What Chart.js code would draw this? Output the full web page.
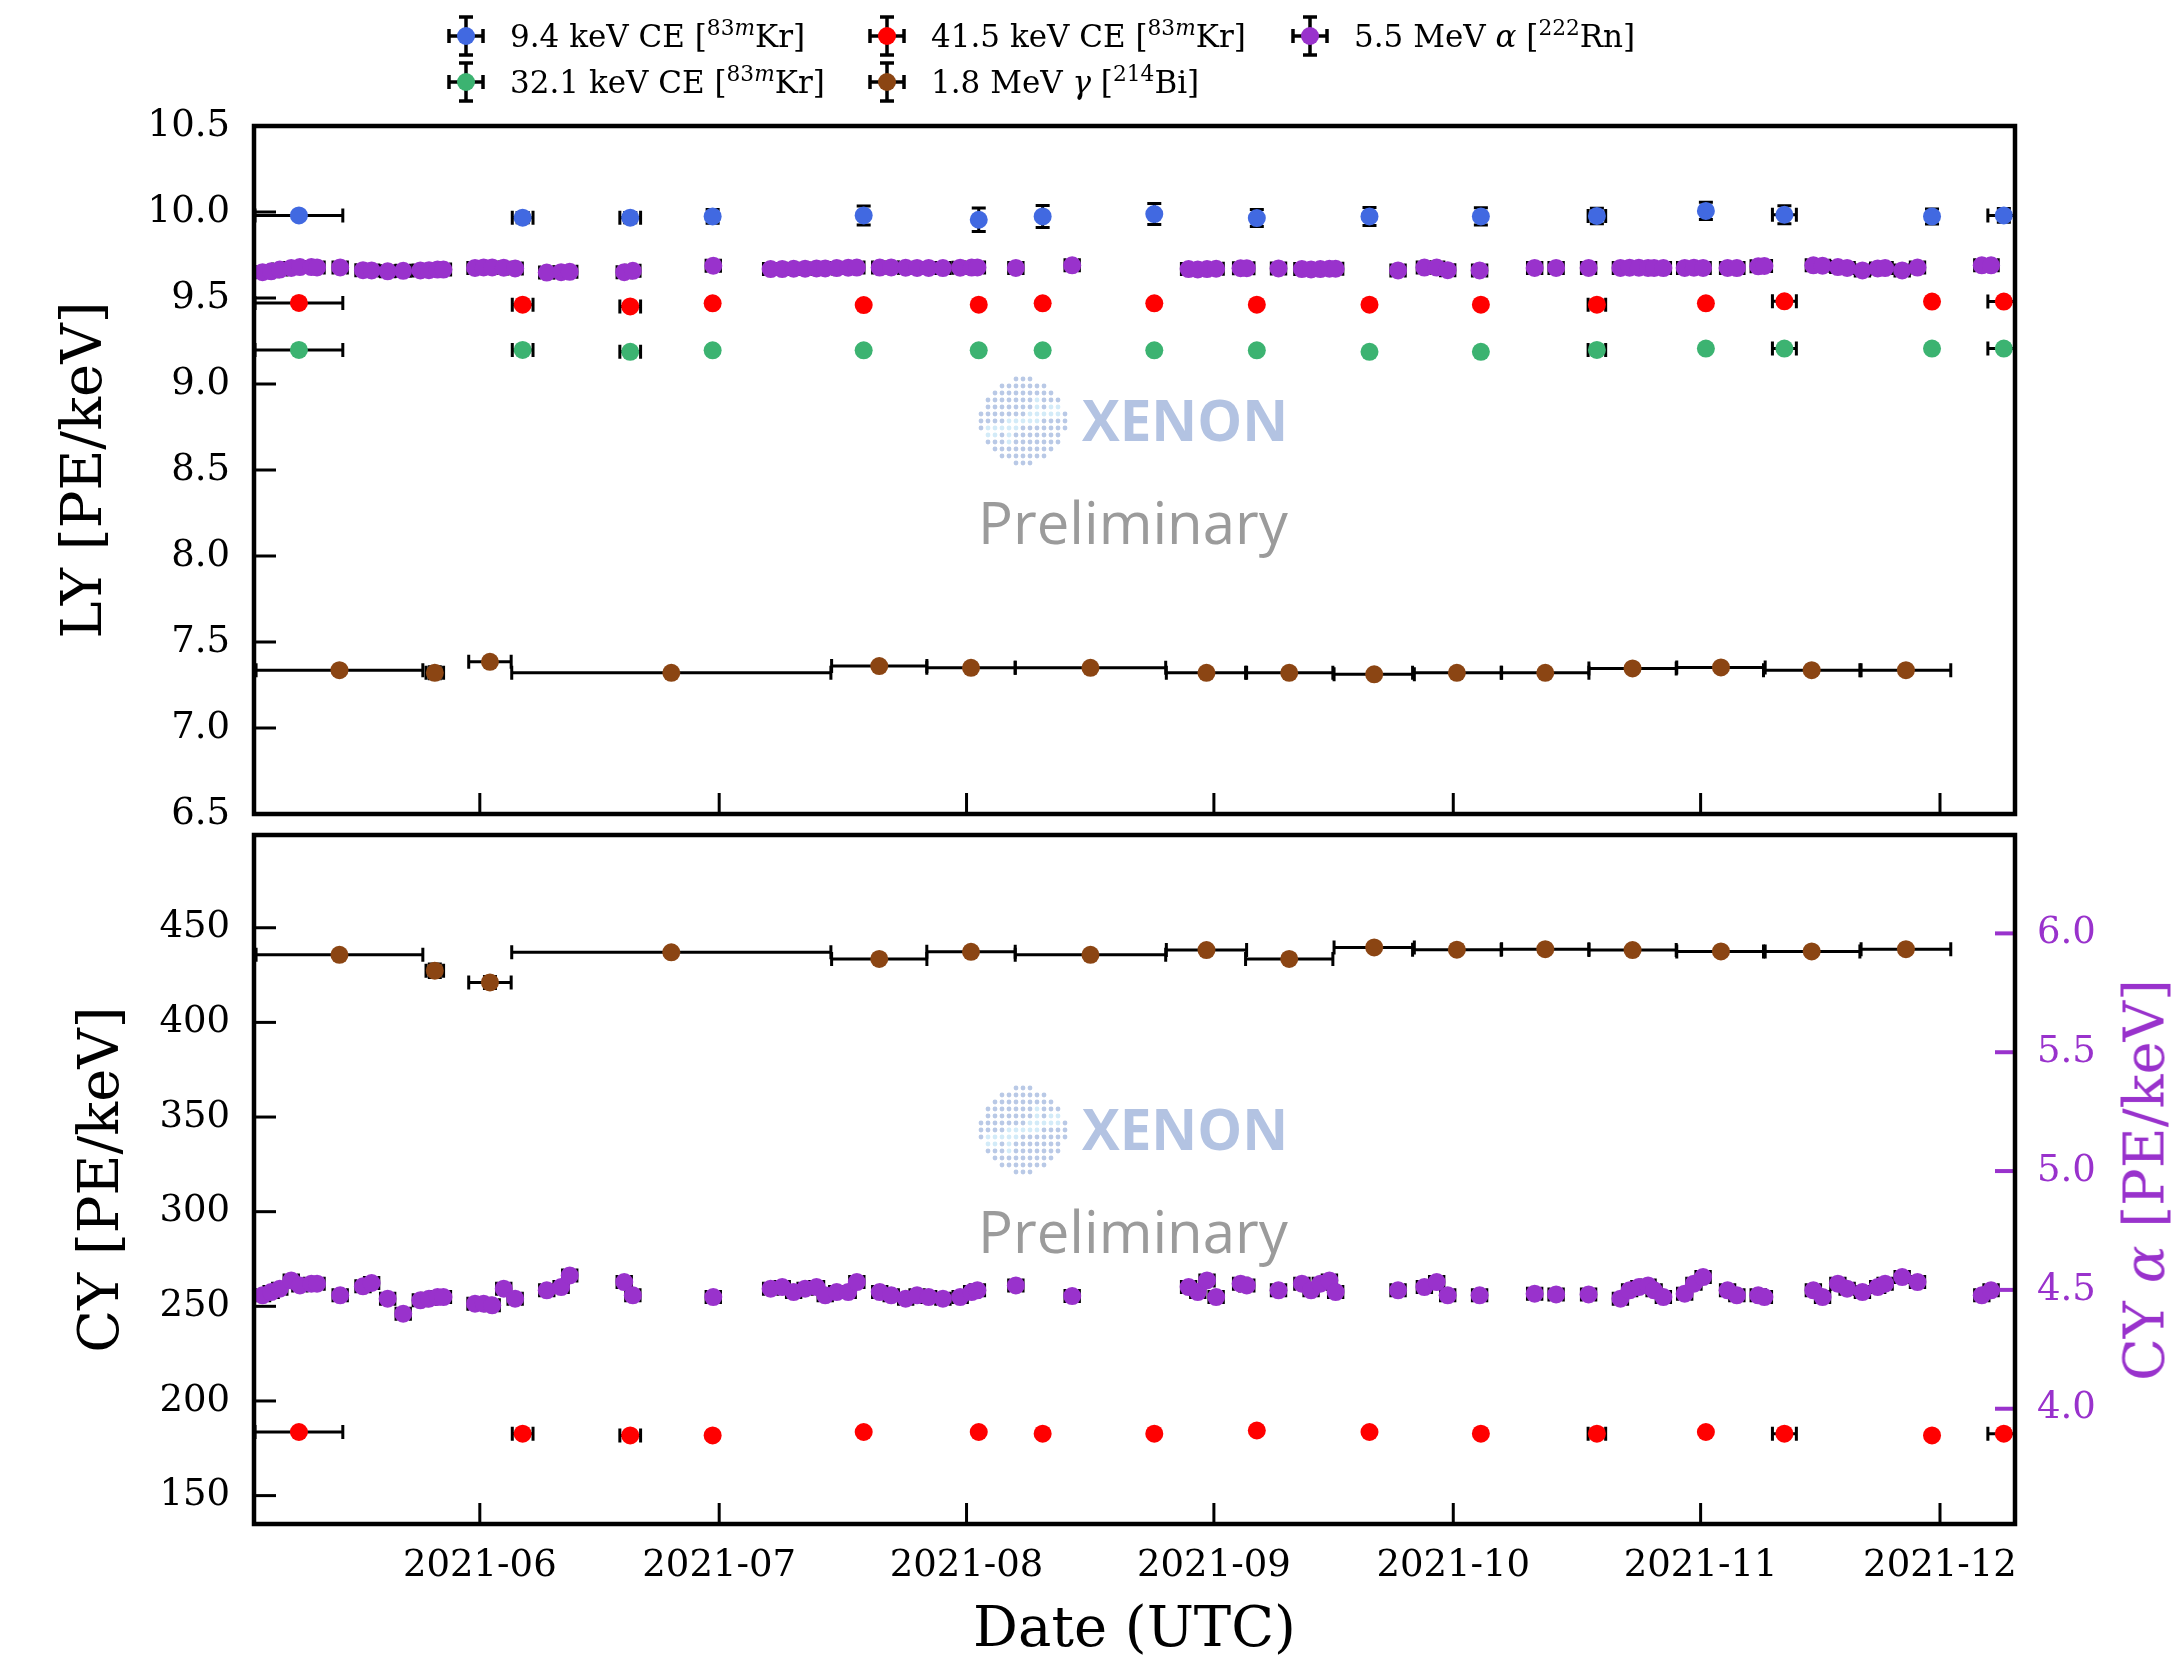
<!DOCTYPE html>
<html>
<head>
<meta charset="utf-8">
<script src="https://cdn.jsdelivr.net/npm/chart.js@4.4.1/dist/chart.umd.min.js"></script>
<style>
  html, body { margin: 0; padding: 0; background: #fff; }
  #wrap { position: relative; width: 2176px; height: 1671px; overflow: hidden; font-family: 'DejaVu Serif', serif; }
  #lyCanvas { position: absolute; left: 0; top: 0; }
  #cyCanvas { position: absolute; left: 0; top: 826px; }
  .leg { position: absolute; display: flex; align-items: center; font-size: 31px; white-space: nowrap; color: #000; }
  .leg svg { margin-right: 24px; flex: none; }
  .leg sup { font-size: 70%; line-height: 0; vertical-align: 0.55em; }
  #cyAlphaTitle { position: absolute; left: 2144px; top: 1180px; transform: translate(-50%, -50%) rotate(-90deg);
    color: #9932cc; font-size: 56px; white-space: nowrap; }
</style>
</head>
<body>
<div id="wrap">
  <canvas id="lyCanvas" width="2176" height="826"></canvas>
  <canvas id="cyCanvas" width="2176" height="845"></canvas>
  <div id="legend"></div>
  <div id="cyAlphaTitle">CY <i>α</i> [PE/keV]</div>
</div>
<script>
// x values are days since 2021-05-01 00:00 UTC
const EPOCH = Date.UTC(2021, 4, 1);
const dayOf = s => (Date.parse(s + 'T00:00:00Z') - EPOCH) / 864e5;

const monthTickDates = ['2021-06-01', '2021-07-01', '2021-08-01', '2021-09-01', '2021-10-01', '2021-11-01', '2021-12-01'];
const monthTickLabels = ['2021-06', '2021-07', '2021-08', '2021-09', '2021-10', '2021-11', '2021-12'];
const X_MIN = 2.7, X_MAX = 223.4;

const lyTicks = [6.5, 7.0, 7.5, 8.0, 8.5, 9.0, 9.5, 10.0, 10.5];
const cyTicks = [150, 200, 250, 300, 350, 400, 450];
const cyAlphaTicks = [4.0, 4.5, 5.0, 5.5, 6.0];

// 83mKr calibrations (9.4 / 32.1 / 41.5 keV)
const krDays = [8.33, 36.37, 49.85, 60.18, 79.11, 93.53, 101.54, 115.53, 128.38, 142.5, 156.46, 171.0, 184.66, 194.5, 213.0, 222.0];
const krXerr = [5.5, 1.3, 1.3, 0, 0, 0, 0, 0, 0, 0, 0, 1.1, 0, 1.5, 0, 2.0];
const ly9 = [9.98, 9.967, 9.967, 9.974, 9.98, 9.955, 9.974, 9.988, 9.965, 9.974, 9.974, 9.977, 10.006, 9.984, 9.974, 9.98];
const ly9Err = [0.02, 0.03, 0.03, 0.04, 0.055, 0.068, 0.064, 0.061, 0.05, 0.052, 0.05, 0.045, 0.05, 0.052, 0.044, 0.04];
const ly41 = [9.471, 9.461, 9.451, 9.469, 9.459, 9.461, 9.469, 9.469, 9.461, 9.461, 9.461, 9.461, 9.469, 9.481, 9.479, 9.479];
const ly32 = [9.198, 9.198, 9.187, 9.196, 9.196, 9.196, 9.196, 9.196, 9.196, 9.187, 9.187, 9.198, 9.206, 9.206, 9.206, 9.206];
const cy41 = [183.6, 182.7, 181.8, 181.8, 183.6, 183.6, 182.7, 182.7, 184.4, 183.6, 182.7, 182.7, 183.6, 182.7, 181.8, 182.7];
const krSmallErrLY = 0.01;
const krSmallErrCY = 0.5;

// 214Bi 1.8 MeV gamma
const biDays = [13.41, 25.36, 32.27, 55.0, 81.06, 92.56, 107.53, 122.07, 132.44, 143.09, 153.45, 164.53, 175.47, 186.55, 197.92, 209.73];
const biXerr = [10.45, 1.1, 2.66, 20.0, 5.97, 5.54, 9.43, 5.03, 5.47, 5.03, 5.55, 5.47, 5.47, 5.54, 6.04, 5.62];
const lyBi = [7.336, 7.321, 7.385, 7.321, 7.36, 7.35, 7.35, 7.321, 7.321, 7.312, 7.321, 7.321, 7.346, 7.352, 7.336, 7.336];
const lyBiErr = [0.006, 0.035, 0.012, 0.005, 0.006, 0.006, 0.006, 0.006, 0.006, 0.006, 0.006, 0.006, 0.006, 0.006, 0.006, 0.006];
const cyBi = [435.7, 427.3, 421.1, 437.0, 433.5, 437.3, 435.7, 438.2, 433.5, 439.6, 438.4, 438.7, 438.2, 437.5, 437.5, 438.7];
const cyBiErr = [0.8, 3.6, 3.2, 0.8, 0.8, 0.8, 0.8, 0.8, 0.8, 0.8, 0.8, 0.8, 0.8, 0.8, 0.8, 0.8];

// 222Rn 5.5 MeV alpha
const rnDays = [3.77, 4.85, 5.93, 7.37, 8.45, 9.89, 10.6, 13.5, 16.36, 17.44, 19.45, 21.4, 23.55, 24.63, 25.7, 26.44,
  30.4, 31.48, 32.55, 34.0, 35.43, 39.39, 41.19, 42.27, 49.1, 50.18, 60.26, 67.45, 68.9, 70.33, 71.77, 73.2, 74.29,
  75.73, 77.17, 78.25, 81.12, 82.56, 84.37, 85.8, 87.25, 89.04, 91.2, 92.64, 93.36, 98.18, 105.24, 119.83, 120.98,
  122.14, 123.28, 126.35, 127.12, 131.1, 134.03, 135.18, 136.34, 137.48, 138.26, 146.08, 149.38, 150.92, 152.3,
  156.3, 163.2, 165.89, 169.96, 173.95, 175.1, 176.26, 177.41, 178.17, 179.33, 182.0, 183.16, 184.31, 187.38,
  188.54, 191.22, 191.99, 198.13, 199.28, 201.2, 202.36, 204.28, 206.19, 207.12, 209.26, 211.18, 219.24, 220.4];
const lyRn = [9.650, 9.655, 9.665, 9.675, 9.680, 9.680, 9.678, 9.678, 9.662, 9.660, 9.655, 9.658, 9.660, 9.662, 9.665, 9.665,
  9.675, 9.678, 9.678, 9.676, 9.672, 9.648, 9.650, 9.652, 9.650, 9.658, 9.688, 9.668, 9.668, 9.670, 9.670, 9.672, 9.672,
  9.674, 9.676, 9.677, 9.677, 9.678, 9.676, 9.675, 9.675, 9.674, 9.676, 9.677, 9.678, 9.675, 9.690, 9.668, 9.666,
  9.668, 9.670, 9.673, 9.673, 9.672, 9.668, 9.666, 9.668, 9.670, 9.670, 9.660, 9.677, 9.677, 9.662,
  9.660, 9.675, 9.675, 9.675, 9.675, 9.676, 9.676, 9.675, 9.675, 9.674, 9.675, 9.676, 9.675, 9.675,
  9.674, 9.684, 9.686, 9.690, 9.688, 9.680, 9.675, 9.660, 9.672, 9.674, 9.660, 9.677, 9.690, 9.690];
const cyRn = [4.477, 4.491, 4.505, 4.540, 4.519, 4.526, 4.526, 4.477, 4.515, 4.529, 4.463, 4.400, 4.456, 4.463, 4.470, 4.470,
  4.442, 4.442, 4.435, 4.505, 4.463, 4.498, 4.512, 4.561, 4.533, 4.477, 4.470, 4.505, 4.512, 4.491, 4.505, 4.512, 4.477,
  4.491, 4.491, 4.533, 4.491, 4.477, 4.463, 4.477, 4.470, 4.463, 4.470, 4.491, 4.498, 4.519, 4.474, 4.512, 4.491,
  4.540, 4.470, 4.526, 4.519, 4.498, 4.526, 4.498, 4.526, 4.540, 4.491, 4.498, 4.512, 4.533, 4.477,
  4.477, 4.484, 4.481, 4.481, 4.463, 4.498, 4.512, 4.519, 4.498, 4.470, 4.484, 4.526, 4.554, 4.498,
  4.477, 4.477, 4.470, 4.498, 4.470, 4.526, 4.505, 4.491, 4.512, 4.526, 4.554, 4.533, 4.477, 4.498];
const rnXerr = 0.9;
const rnErrLY = 0.005;
const rnErrCY = 0.01;

const BLUE = '#4169e1', RED = '#ff0000', GREEN = '#3cb371', BROWN = '#8b4513', PURPLE = '#9932cc';
const CAP = 7;

Chart.defaults.font.family = "'DejaVu Serif', serif";
Chart.defaults.color = '#000';

function series(days, vals, xErr, yErr, color, yAxisID) {
  return {
    data: days.map((d, i) => ({x: d, y: vals[i]})),
    xErr: xErr, yErr: yErr, yAxisID: yAxisID || 'y',
    backgroundColor: color, borderColor: color,
    pointRadius: 9, pointHoverRadius: 9, pointBorderWidth: 0, showLine: false
  };
}

const errAt = (e, j) => Array.isArray(e) ? e[j] : e;

const errorBarPlugin = {
  id: 'errorBars',
  beforeDatasetsDraw(chart) {
    const {ctx, chartArea: a} = chart;
    ctx.save();
    ctx.beginPath();
    ctx.rect(a.left, a.top, a.width, a.height);
    ctx.clip();
    ctx.strokeStyle = '#000';
    ctx.lineWidth = 3;
    chart.data.datasets.forEach((ds, i) => {
      const meta = chart.getDatasetMeta(i);
      const xs = chart.scales[meta.xAxisID], ys = chart.scales[meta.yAxisID];
      ds.data.forEach((p, j) => {
        const ex = errAt(ds.xErr, j), ey = errAt(ds.yErr, j);
        const x = xs.getPixelForValue(p.x), y = ys.getPixelForValue(p.y);
        const x0 = xs.getPixelForValue(p.x - ex), x1 = xs.getPixelForValue(p.x + ex);
        const y0 = ys.getPixelForValue(p.y - ey), y1 = ys.getPixelForValue(p.y + ey);
        ctx.beginPath();
        ctx.moveTo(x0, y); ctx.lineTo(x1, y);
        ctx.moveTo(x0, y - CAP); ctx.lineTo(x0, y + CAP);
        ctx.moveTo(x1, y - CAP); ctx.lineTo(x1, y + CAP);
        ctx.moveTo(x, y0); ctx.lineTo(x, y1);
        ctx.moveTo(x - CAP, y0); ctx.lineTo(x + CAP, y0);
        ctx.moveTo(x - CAP, y1); ctx.lineTo(x + CAP, y1);
        ctx.stroke();
      });
    });
    ctx.restore();
  }
};

function fitText(ctx, text, weight, family, targetWidth) {
  ctx.font = weight + ' 100px ' + family;
  const w = ctx.measureText(text).width;
  ctx.font = weight + ' ' + (100 * targetWidth / w).toFixed(1) + 'px ' + family;
}

const watermarkPlugin = {
  id: 'watermark',
  beforeDatasetsDraw(chart) {
    const {ctx, chartArea: a} = chart;
    const cx = a.left + 769, cy = a.top + 295;
    ctx.save();
    for (let dy = -42; dy <= 42; dy += 7) {
      for (let dx = -42; dx <= 42; dx += 7) {
        if (dx * dx + dy * dy > 44 * 44) continue;
        const swirl = Math.abs(dy + 0.35 * dx) < 6 || Math.abs(dx - 14) < 4 && dy > -28 && dy < 0 || Math.abs(dx + 14) < 4 && dy < 28 && dy > 0;
        ctx.fillStyle = swirl ? '#d3ebf8' : '#b9c9e6';
        ctx.beginPath();
        ctx.arc(cx + dx, cy + dy, 2.4, 0, Math.PI * 2);
        ctx.fill();
      }
    }
    ctx.textBaseline = 'middle';
    ctx.fillStyle = '#b3c3e2';
    fitText(ctx, 'XENON', 'bold', '"Open Sans", sans-serif', 206);
    ctx.fillText('XENON', a.left + 828, cy + 4);
    ctx.textBaseline = 'alphabetic';
    ctx.fillStyle = '#9b9b9b';
    fitText(ctx, 'Preliminary', 'normal', '"Open Sans", sans-serif', 310);
    ctx.fillText('Preliminary', a.left + 724, a.top + 418);
    ctx.restore();
  }
};

const framePlugin = {
  id: 'frame',
  afterDatasetsDraw(chart) {
    const {ctx, chartArea: a, scales} = chart;
    const line = (x0, y0, x1, y1) => { ctx.beginPath(); ctx.moveTo(x0, y0); ctx.lineTo(x1, y1); ctx.stroke(); };
    ctx.save();
    ctx.lineWidth = 3;
    ctx.strokeStyle = '#000';
    scales.x.ticks.forEach(t => { const px = scales.x.getPixelForValue(t.value); line(px, a.bottom, px, a.bottom - 21); });
    scales.y.ticks.forEach(t => { const py = scales.y.getPixelForValue(t.value); line(a.left, py, a.left + 22, py); });
    if (scales.y2) {
      ctx.strokeStyle = PURPLE;
      ctx.lineWidth = 4;
      scales.y2.ticks.forEach(t => { const py = scales.y2.getPixelForValue(t.value); line(a.right, py, a.right - 20, py); });
    }
    ctx.strokeStyle = '#000';
    ctx.lineWidth = 4.5;
    ctx.strokeRect(a.left, a.top, a.width, a.height);
    ctx.restore();
  }
};

const fixedTicks = values => axis => { axis.ticks = values.map(v => ({value: v})); };
const fixedSize = (w, h) => axis => {
  if (w != null) axis.width = w;
  if (h != null) axis.height = h;
  axis.paddingTop = axis.paddingBottom = axis.paddingLeft = axis.paddingRight = 0;
};
const noGrid = {display: false, drawTicks: false};
const monthDays = monthTickDates.map(dayOf);

// LY panel
new Chart(document.getElementById('lyCanvas'), {
  type: 'scatter',
  data: {
    datasets: [
      series(krDays, ly9, krXerr, ly9Err, BLUE),
      series(krDays, ly32, krXerr, krSmallErrLY, GREEN),
      series(krDays, ly41, krXerr, krSmallErrLY, RED),
      series(biDays, lyBi, biXerr, lyBiErr, BROWN),
      series(rnDays, lyRn, rnXerr, rnErrLY, PURPLE)
    ]
  },
  options: {
    responsive: false,
    animation: false,
    layout: {padding: {left: 0, top: 126, right: 161, bottom: 0}},
    plugins: {legend: {display: false}, tooltip: {enabled: false}},
    scales: {
      x: {
        type: 'linear', min: X_MIN, max: X_MAX,
        afterBuildTicks: fixedTicks(monthDays),
        afterFit: fixedSize(null, 12),
        ticks: {display: false},
        grid: noGrid, border: {display: false}
      },
      y: {
        type: 'linear', min: 6.5, max: 10.5,
        afterBuildTicks: fixedTicks(lyTicks),
        afterFit: fixedSize(254, null),
        ticks: {callback: v => v.toFixed(1), font: {size: 37}, padding: 24, color: '#000'},
        grid: noGrid, border: {display: false},
        title: {display: true, text: 'LY [PE/keV]', font: {size: 56}, padding: {top: 53, bottom: 0}, color: '#000'}
      }
    }
  },
  plugins: [watermarkPlugin, errorBarPlugin, framePlugin]
});

// CY panel
new Chart(document.getElementById('cyCanvas'), {
  type: 'scatter',
  data: {
    datasets: [
      series(krDays, cy41, krXerr, krSmallErrCY, RED),
      series(biDays, cyBi, biXerr, cyBiErr, BROWN),
      series(rnDays, cyRn, rnXerr, rnErrCY, PURPLE, 'y2')
    ]
  },
  options: {
    responsive: false,
    animation: false,
    layout: {padding: {left: 0, top: 8, right: 0, bottom: 0}},
    plugins: {legend: {display: false}, tooltip: {enabled: false}},
    scales: {
      x: {
        type: 'linear', min: X_MIN, max: X_MAX,
        afterBuildTicks: fixedTicks(monthDays),
        afterFit: fixedSize(null, 147),
        ticks: {callback: (v, i) => monthTickLabels[i], font: {size: 37}, padding: 20, maxRotation: 0, autoSkip: false, color: '#000'},
        grid: noGrid, border: {display: false},
        title: {display: true, text: 'Date (UTC)', font: {size: 56}, padding: {top: 0, bottom: 6}, color: '#000'}
      },
      y: {
        type: 'linear', min: 135, max: 499,
        afterBuildTicks: fixedTicks(cyTicks),
        afterFit: fixedSize(254, null),
        ticks: {callback: v => String(v), font: {size: 37}, padding: 24, color: '#000'},
        grid: noGrid, border: {display: false},
        title: {display: true, text: 'CY [PE/keV]', font: {size: 56}, padding: {top: 70, bottom: 0}, color: '#000'}
      },
      y2: {
        type: 'linear', position: 'right', min: 3.515, max: 6.414,
        afterBuildTicks: fixedTicks(cyAlphaTicks),
        afterFit: fixedSize(161, null),
        ticks: {callback: v => v.toFixed(1), font: {size: 37}, padding: 22, color: PURPLE},
        grid: noGrid, border: {display: false}
      }
    }
  },
  plugins: [watermarkPlugin, errorBarPlugin, framePlugin]
});

// legend (matplotlib style, 3 columns filled column-wise)
const legendItems = [
  {html: '9.4 keV CE [<sup>83<i>m</i></sup>Kr]', color: BLUE, left: 446, top: 14},
  {html: '32.1 keV CE [<sup>83<i>m</i></sup>Kr]', color: GREEN, left: 446, top: 60},
  {html: '41.5 keV CE [<sup>83<i>m</i></sup>Kr]', color: RED, left: 867, top: 14},
  {html: '1.8 MeV <i>γ</i> [<sup>214</sup>Bi]', color: BROWN, left: 867, top: 60},
  {html: '5.5 MeV <i>α</i> [<sup>222</sup>Rn]', color: PURPLE, left: 1290, top: 14}
];

function legendIcon(color) {
  return `<svg width="40" height="44" viewBox="0 0 40 44"><g stroke="#000" stroke-width="3.5">` +
    `<line x1="3" y1="22" x2="37" y2="22"/><line x1="3" y1="15" x2="3" y2="29"/><line x1="37" y1="15" x2="37" y2="29"/>` +
    `<line x1="20" y1="3" x2="20" y2="41"/><line x1="13" y1="3" x2="27" y2="3"/><line x1="13" y1="41" x2="27" y2="41"/>` +
    `</g><circle cx="20" cy="22" r="9" fill="${color}"/></svg>`;
}

const legend = document.getElementById('legend');
legendItems.forEach(item => {
  const div = document.createElement('div');
  div.className = 'leg';
  div.style.left = item.left + 'px';
  div.style.top = item.top + 'px';
  div.innerHTML = legendIcon(item.color) + '<span>' + item.html + '</span>';
  legend.appendChild(div);
});
</script>
</body>
</html>
